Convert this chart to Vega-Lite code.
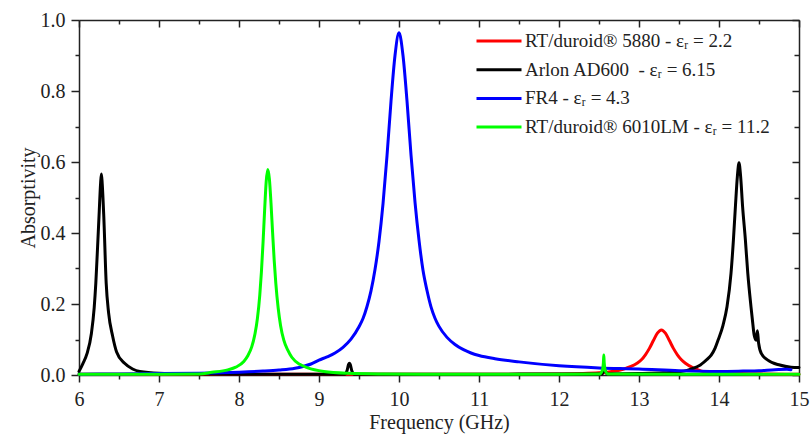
{
  "$schema": "https://vega.github.io/schema/vega-lite/v6.json",
  "width": 720,
  "height": 355,
  "autosize": {"type": "none"},
  "padding": {"left": 79, "top": 20, "right": 11, "bottom": 59},
  "background": "white",
  "config": {
    "view": {"stroke": null},
    "style": {"guide-label": {"font": "Liberation Serif", "fontSize": 20, "fill": "#222222"}, "guide-title": {"font": "Liberation Serif", "fontSize": 20, "fontWeight": "normal", "fill": "#222222"}},
    "axis": {
      "grid": false,
      "domainColor": "#222222",
      "domainWidth": 1.5,
      "tickColor": "#222222",
      "tickWidth": 1.5,
      "labelFont": "Liberation Serif",
      "labelFontSize": 20,
      "labelColor": "#222222",
      "titleFont": "Liberation Serif",
      "titleFontSize": 20,
      "titleFontWeight": "normal",
      "titleColor": "#222222",
      "labelFlush": false,
      "labelOverlap": false
    }
  },
  "datasets": {
    "curves": [
      {"s": "RT/duroid® 5880 - εᵣ = 2.2", "f": 6.0, "a": 0.002},
      {"s": "RT/duroid® 5880 - εᵣ = 2.2", "f": 8.0, "a": 0.002},
      {"s": "RT/duroid® 5880 - εᵣ = 2.2", "f": 10.0, "a": 0.002},
      {"s": "RT/duroid® 5880 - εᵣ = 2.2", "f": 11.0, "a": 0.002},
      {"s": "RT/duroid® 5880 - εᵣ = 2.2", "f": 12.0, "a": 0.003},
      {"s": "RT/duroid® 5880 - εᵣ = 2.2", "f": 12.3, "a": 0.004},
      {"s": "RT/duroid® 5880 - εᵣ = 2.2", "f": 12.5, "a": 0.006},
      {"s": "RT/duroid® 5880 - εᵣ = 2.2", "f": 12.6, "a": 0.008},
      {"s": "RT/duroid® 5880 - εᵣ = 2.2", "f": 12.7, "a": 0.011},
      {"s": "RT/duroid® 5880 - εᵣ = 2.2", "f": 12.8, "a": 0.016},
      {"s": "RT/duroid® 5880 - εᵣ = 2.2", "f": 12.9, "a": 0.024},
      {"s": "RT/duroid® 5880 - εᵣ = 2.2", "f": 12.98, "a": 0.034},
      {"s": "RT/duroid® 5880 - εᵣ = 2.2", "f": 13.03, "a": 0.043},
      {"s": "RT/duroid® 5880 - εᵣ = 2.2", "f": 13.08, "a": 0.057},
      {"s": "RT/duroid® 5880 - εᵣ = 2.2", "f": 13.13, "a": 0.075},
      {"s": "RT/duroid® 5880 - εᵣ = 2.2", "f": 13.18, "a": 0.097},
      {"s": "RT/duroid® 5880 - εᵣ = 2.2", "f": 13.23, "a": 0.118},
      {"s": "RT/duroid® 5880 - εᵣ = 2.2", "f": 13.28, "a": 0.127},
      {"s": "RT/duroid® 5880 - εᵣ = 2.2", "f": 13.33, "a": 0.118},
      {"s": "RT/duroid® 5880 - εᵣ = 2.2", "f": 13.38, "a": 0.097},
      {"s": "RT/duroid® 5880 - εᵣ = 2.2", "f": 13.43, "a": 0.075},
      {"s": "RT/duroid® 5880 - εᵣ = 2.2", "f": 13.48, "a": 0.057},
      {"s": "RT/duroid® 5880 - εᵣ = 2.2", "f": 13.53, "a": 0.043},
      {"s": "RT/duroid® 5880 - εᵣ = 2.2", "f": 13.58, "a": 0.033},
      {"s": "RT/duroid® 5880 - εᵣ = 2.2", "f": 13.68, "a": 0.02},
      {"s": "RT/duroid® 5880 - εᵣ = 2.2", "f": 13.78, "a": 0.011},
      {"s": "RT/duroid® 5880 - εᵣ = 2.2", "f": 13.9, "a": 0.007},
      {"s": "RT/duroid® 5880 - εᵣ = 2.2", "f": 14.28, "a": 0.004},
      {"s": "RT/duroid® 5880 - εᵣ = 2.2", "f": 14.6, "a": 0.003},
      {"s": "RT/duroid® 5880 - εᵣ = 2.2", "f": 15.0, "a": 0.002},

      {"s": "Arlon AD600  - εᵣ = 6.15", "f": 6.0, "a": 0.01},
      {"s": "Arlon AD600  - εᵣ = 6.15", "f": 6.05, "a": 0.033},
      {"s": "Arlon AD600  - εᵣ = 6.15", "f": 6.1, "a": 0.06},
      {"s": "Arlon AD600  - εᵣ = 6.15", "f": 6.155, "a": 0.117},
      {"s": "Arlon AD600  - εᵣ = 6.15", "f": 6.19, "a": 0.19},
      {"s": "Arlon AD600  - εᵣ = 6.15", "f": 6.21, "a": 0.258},
      {"s": "Arlon AD600  - εᵣ = 6.15", "f": 6.23, "a": 0.35},
      {"s": "Arlon AD600  - εᵣ = 6.15", "f": 6.25, "a": 0.446},
      {"s": "Arlon AD600  - εᵣ = 6.15", "f": 6.27, "a": 0.54},
      {"s": "Arlon AD600  - εᵣ = 6.15", "f": 6.28, "a": 0.566},
      {"s": "Arlon AD600  - εᵣ = 6.15", "f": 6.29, "a": 0.54},
      {"s": "Arlon AD600  - εᵣ = 6.15", "f": 6.31, "a": 0.446},
      {"s": "Arlon AD600  - εᵣ = 6.15", "f": 6.34, "a": 0.258},
      {"s": "Arlon AD600  - εᵣ = 6.15", "f": 6.37, "a": 0.175},
      {"s": "Arlon AD600  - εᵣ = 6.15", "f": 6.42, "a": 0.11},
      {"s": "Arlon AD600  - εᵣ = 6.15", "f": 6.47, "a": 0.065},
      {"s": "Arlon AD600  - εᵣ = 6.15", "f": 6.57, "a": 0.033},
      {"s": "Arlon AD600  - εᵣ = 6.15", "f": 6.67, "a": 0.017},
      {"s": "Arlon AD600  - εᵣ = 6.15", "f": 6.76, "a": 0.01},
      {"s": "Arlon AD600  - εᵣ = 6.15", "f": 7.0, "a": 0.005},
      {"s": "Arlon AD600  - εᵣ = 6.15", "f": 7.5, "a": 0.003},
      {"s": "Arlon AD600  - εᵣ = 6.15", "f": 8.0, "a": 0.002},
      {"s": "Arlon AD600  - εᵣ = 6.15", "f": 9.0, "a": 0.002},
      {"s": "Arlon AD600  - εᵣ = 6.15", "f": 9.32, "a": 0.002},
      {"s": "Arlon AD600  - εᵣ = 6.15", "f": 9.35, "a": 0.012},
      {"s": "Arlon AD600  - εᵣ = 6.15", "f": 9.37, "a": 0.03},
      {"s": "Arlon AD600  - εᵣ = 6.15", "f": 9.38, "a": 0.033},
      {"s": "Arlon AD600  - εᵣ = 6.15", "f": 9.39, "a": 0.03},
      {"s": "Arlon AD600  - εᵣ = 6.15", "f": 9.41, "a": 0.012},
      {"s": "Arlon AD600  - εᵣ = 6.15", "f": 9.44, "a": 0.002},
      {"s": "Arlon AD600  - εᵣ = 6.15", "f": 10.0, "a": 0.002},
      {"s": "Arlon AD600  - εᵣ = 6.15", "f": 11.0, "a": 0.002},
      {"s": "Arlon AD600  - εᵣ = 6.15", "f": 12.0, "a": 0.003},
      {"s": "Arlon AD600  - εᵣ = 6.15", "f": 12.54, "a": 0.003},
      {"s": "Arlon AD600  - εᵣ = 6.15", "f": 12.57, "a": 0.015},
      {"s": "Arlon AD600  - εᵣ = 6.15", "f": 12.6, "a": 0.003},
      {"s": "Arlon AD600  - εᵣ = 6.15", "f": 13.0, "a": 0.004},
      {"s": "Arlon AD600  - εᵣ = 6.15", "f": 13.3, "a": 0.006},
      {"s": "Arlon AD600  - εᵣ = 6.15", "f": 13.5, "a": 0.009},
      {"s": "Arlon AD600  - εᵣ = 6.15", "f": 13.6, "a": 0.013},
      {"s": "Arlon AD600  - εᵣ = 6.15", "f": 13.68, "a": 0.019},
      {"s": "Arlon AD600  - εᵣ = 6.15", "f": 13.75, "a": 0.026},
      {"s": "Arlon AD600  - εᵣ = 6.15", "f": 13.84, "a": 0.042},
      {"s": "Arlon AD600  - εᵣ = 6.15", "f": 13.9, "a": 0.055},
      {"s": "Arlon AD600  - εᵣ = 6.15", "f": 13.95, "a": 0.075},
      {"s": "Arlon AD600  - εᵣ = 6.15", "f": 13.99, "a": 0.099},
      {"s": "Arlon AD600  - εᵣ = 6.15", "f": 14.05, "a": 0.14},
      {"s": "Arlon AD600  - εᵣ = 6.15", "f": 14.1, "a": 0.192},
      {"s": "Arlon AD600  - εᵣ = 6.15", "f": 14.15, "a": 0.286},
      {"s": "Arlon AD600  - εᵣ = 6.15", "f": 14.18, "a": 0.38},
      {"s": "Arlon AD600  - εᵣ = 6.15", "f": 14.205, "a": 0.474},
      {"s": "Arlon AD600  - εᵣ = 6.15", "f": 14.23, "a": 0.56},
      {"s": "Arlon AD600  - εᵣ = 6.15", "f": 14.25, "a": 0.598},
      {"s": "Arlon AD600  - εᵣ = 6.15", "f": 14.27, "a": 0.56},
      {"s": "Arlon AD600  - εᵣ = 6.15", "f": 14.295, "a": 0.474},
      {"s": "Arlon AD600  - εᵣ = 6.15", "f": 14.33, "a": 0.38},
      {"s": "Arlon AD600  - εᵣ = 6.15", "f": 14.36, "a": 0.286},
      {"s": "Arlon AD600  - εᵣ = 6.15", "f": 14.4, "a": 0.192},
      {"s": "Arlon AD600  - εᵣ = 6.15", "f": 14.42, "a": 0.15},
      {"s": "Arlon AD600  - εᵣ = 6.15", "f": 14.44, "a": 0.112},
      {"s": "Arlon AD600  - εᵣ = 6.15", "f": 14.465, "a": 0.098},
      {"s": "Arlon AD600  - εᵣ = 6.15", "f": 14.48, "a": 0.125},
      {"s": "Arlon AD600  - εᵣ = 6.15", "f": 14.495, "a": 0.09},
      {"s": "Arlon AD600  - εᵣ = 6.15", "f": 14.53, "a": 0.06},
      {"s": "Arlon AD600  - εᵣ = 6.15", "f": 14.61, "a": 0.042},
      {"s": "Arlon AD600  - εᵣ = 6.15", "f": 14.76, "a": 0.028},
      {"s": "Arlon AD600  - εᵣ = 6.15", "f": 14.9, "a": 0.022},
      {"s": "Arlon AD600  - εᵣ = 6.15", "f": 15.0, "a": 0.021},

      {"s": "FR4 - εᵣ = 4.3", "f": 6.0, "a": 0.002},
      {"s": "FR4 - εᵣ = 4.3", "f": 6.5, "a": 0.003},
      {"s": "FR4 - εᵣ = 4.3", "f": 7.0, "a": 0.004},
      {"s": "FR4 - εᵣ = 4.3", "f": 7.5, "a": 0.005},
      {"s": "FR4 - εᵣ = 4.3", "f": 8.0, "a": 0.008},
      {"s": "FR4 - εᵣ = 4.3", "f": 8.3, "a": 0.011},
      {"s": "FR4 - εᵣ = 4.3", "f": 8.5, "a": 0.014},
      {"s": "FR4 - εᵣ = 4.3", "f": 8.7, "a": 0.019},
      {"s": "FR4 - εᵣ = 4.3", "f": 8.8, "a": 0.024},
      {"s": "FR4 - εᵣ = 4.3", "f": 8.9, "a": 0.031},
      {"s": "FR4 - εᵣ = 4.3", "f": 9.0, "a": 0.042},
      {"s": "FR4 - εᵣ = 4.3", "f": 9.1, "a": 0.051},
      {"s": "FR4 - εᵣ = 4.3", "f": 9.2, "a": 0.062},
      {"s": "FR4 - εᵣ = 4.3", "f": 9.3, "a": 0.078},
      {"s": "FR4 - εᵣ = 4.3", "f": 9.4, "a": 0.101},
      {"s": "FR4 - εᵣ = 4.3", "f": 9.5, "a": 0.136},
      {"s": "FR4 - εᵣ = 4.3", "f": 9.55, "a": 0.159},
      {"s": "FR4 - εᵣ = 4.3", "f": 9.6, "a": 0.193},
      {"s": "FR4 - εᵣ = 4.3", "f": 9.65, "a": 0.237},
      {"s": "FR4 - εᵣ = 4.3", "f": 9.7, "a": 0.297},
      {"s": "FR4 - εᵣ = 4.3", "f": 9.75, "a": 0.376},
      {"s": "FR4 - εᵣ = 4.3", "f": 9.8, "a": 0.482},
      {"s": "FR4 - εᵣ = 4.3", "f": 9.85, "a": 0.617},
      {"s": "FR4 - εᵣ = 4.3", "f": 9.9, "a": 0.771},
      {"s": "FR4 - εᵣ = 4.3", "f": 9.95, "a": 0.9},
      {"s": "FR4 - εᵣ = 4.3", "f": 10.0, "a": 0.964},
      {"s": "FR4 - εᵣ = 4.3", "f": 10.05, "a": 0.9},
      {"s": "FR4 - εᵣ = 4.3", "f": 10.1, "a": 0.772},
      {"s": "FR4 - εᵣ = 4.3", "f": 10.15, "a": 0.62},
      {"s": "FR4 - εᵣ = 4.3", "f": 10.2, "a": 0.487},
      {"s": "FR4 - εᵣ = 4.3", "f": 10.25, "a": 0.38},
      {"s": "FR4 - εᵣ = 4.3", "f": 10.3, "a": 0.295},
      {"s": "FR4 - εᵣ = 4.3", "f": 10.35, "a": 0.238},
      {"s": "FR4 - εᵣ = 4.3", "f": 10.4, "a": 0.192},
      {"s": "FR4 - εᵣ = 4.3", "f": 10.45, "a": 0.16},
      {"s": "FR4 - εᵣ = 4.3", "f": 10.5, "a": 0.137},
      {"s": "FR4 - εᵣ = 4.3", "f": 10.6, "a": 0.106},
      {"s": "FR4 - εᵣ = 4.3", "f": 10.7, "a": 0.086},
      {"s": "FR4 - εᵣ = 4.3", "f": 10.8, "a": 0.072},
      {"s": "FR4 - εᵣ = 4.3", "f": 10.9, "a": 0.062},
      {"s": "FR4 - εᵣ = 4.3", "f": 11.0, "a": 0.055},
      {"s": "FR4 - εᵣ = 4.3", "f": 11.2, "a": 0.046},
      {"s": "FR4 - εᵣ = 4.3", "f": 11.5, "a": 0.037},
      {"s": "FR4 - εᵣ = 4.3", "f": 12.0, "a": 0.026},
      {"s": "FR4 - εᵣ = 4.3", "f": 12.5, "a": 0.02},
      {"s": "FR4 - εᵣ = 4.3", "f": 13.0, "a": 0.017},
      {"s": "FR4 - εᵣ = 4.3", "f": 13.5, "a": 0.012},
      {"s": "FR4 - εᵣ = 4.3", "f": 14.0, "a": 0.01},
      {"s": "FR4 - εᵣ = 4.3", "f": 14.3, "a": 0.011},
      {"s": "FR4 - εᵣ = 4.3", "f": 14.5, "a": 0.012},
      {"s": "FR4 - εᵣ = 4.3", "f": 14.7, "a": 0.015},
      {"s": "FR4 - εᵣ = 4.3", "f": 14.85, "a": 0.016},
      {"s": "FR4 - εᵣ = 4.3", "f": 14.9, "a": 0.015},

      {"s": "RT/duroid® 6010LM - εᵣ = 11.2", "f": 6.0, "a": 0.002},
      {"s": "RT/duroid® 6010LM - εᵣ = 11.2", "f": 7.0, "a": 0.002},
      {"s": "RT/duroid® 6010LM - εᵣ = 11.2", "f": 7.5, "a": 0.003},
      {"s": "RT/duroid® 6010LM - εᵣ = 11.2", "f": 7.66, "a": 0.0075},
      {"s": "RT/duroid® 6010LM - εᵣ = 11.2", "f": 7.86, "a": 0.0145},
      {"s": "RT/duroid® 6010LM - εᵣ = 11.2", "f": 7.96, "a": 0.022},
      {"s": "RT/duroid® 6010LM - εᵣ = 11.2", "f": 8.06, "a": 0.038},
      {"s": "RT/duroid® 6010LM - εᵣ = 11.2", "f": 8.11, "a": 0.054},
      {"s": "RT/duroid® 6010LM - εᵣ = 11.2", "f": 8.16, "a": 0.08},
      {"s": "RT/duroid® 6010LM - εᵣ = 11.2", "f": 8.2, "a": 0.116},
      {"s": "RT/duroid® 6010LM - εᵣ = 11.2", "f": 8.23, "a": 0.159},
      {"s": "RT/duroid® 6010LM - εᵣ = 11.2", "f": 8.26, "a": 0.226},
      {"s": "RT/duroid® 6010LM - εᵣ = 11.2", "f": 8.28, "a": 0.29},
      {"s": "RT/duroid® 6010LM - εᵣ = 11.2", "f": 8.3, "a": 0.371},
      {"s": "RT/duroid® 6010LM - εᵣ = 11.2", "f": 8.32, "a": 0.463},
      {"s": "RT/duroid® 6010LM - εᵣ = 11.2", "f": 8.34, "a": 0.545},
      {"s": "RT/duroid® 6010LM - εᵣ = 11.2", "f": 8.36, "a": 0.579},
      {"s": "RT/duroid® 6010LM - εᵣ = 11.2", "f": 8.38, "a": 0.552},
      {"s": "RT/duroid® 6010LM - εᵣ = 11.2", "f": 8.4, "a": 0.484},
      {"s": "RT/duroid® 6010LM - εᵣ = 11.2", "f": 8.42, "a": 0.401},
      {"s": "RT/duroid® 6010LM - εᵣ = 11.2", "f": 8.44, "a": 0.323},
      {"s": "RT/duroid® 6010LM - εᵣ = 11.2", "f": 8.46, "a": 0.259},
      {"s": "RT/duroid® 6010LM - εᵣ = 11.2", "f": 8.49, "a": 0.188},
      {"s": "RT/duroid® 6010LM - εᵣ = 11.2", "f": 8.52, "a": 0.139},
      {"s": "RT/duroid® 6010LM - εᵣ = 11.2", "f": 8.56, "a": 0.098},
      {"s": "RT/duroid® 6010LM - εᵣ = 11.2", "f": 8.61, "a": 0.07},
      {"s": "RT/duroid® 6010LM - εᵣ = 11.2", "f": 8.66, "a": 0.05},
      {"s": "RT/duroid® 6010LM - εᵣ = 11.2", "f": 8.76, "a": 0.03},
      {"s": "RT/duroid® 6010LM - εᵣ = 11.2", "f": 8.86, "a": 0.02},
      {"s": "RT/duroid® 6010LM - εᵣ = 11.2", "f": 9.06, "a": 0.01},
      {"s": "RT/duroid® 6010LM - εᵣ = 11.2", "f": 9.36, "a": 0.005},
      {"s": "RT/duroid® 6010LM - εᵣ = 11.2", "f": 9.8, "a": 0.003},
      {"s": "RT/duroid® 6010LM - εᵣ = 11.2", "f": 10.5, "a": 0.002},
      {"s": "RT/duroid® 6010LM - εᵣ = 11.2", "f": 12.0, "a": 0.002},
      {"s": "RT/duroid® 6010LM - εᵣ = 11.2", "f": 12.51, "a": 0.003},
      {"s": "RT/duroid® 6010LM - εᵣ = 11.2", "f": 12.54, "a": 0.012},
      {"s": "RT/duroid® 6010LM - εᵣ = 11.2", "f": 12.555, "a": 0.035},
      {"s": "RT/duroid® 6010LM - εᵣ = 11.2", "f": 12.56, "a": 0.056},
      {"s": "RT/duroid® 6010LM - εᵣ = 11.2", "f": 12.565, "a": 0.035},
      {"s": "RT/duroid® 6010LM - εᵣ = 11.2", "f": 12.58, "a": 0.012},
      {"s": "RT/duroid® 6010LM - εᵣ = 11.2", "f": 12.61, "a": 0.003},
      {"s": "RT/duroid® 6010LM - εᵣ = 11.2", "f": 13.5, "a": 0.002},
      {"s": "RT/duroid® 6010LM - εᵣ = 11.2", "f": 15.0, "a": 0.002}
    ]
  },
  "data": {"name": "curves"},
  "resolve": {"axis": {"x": "independent", "y": "independent"}},
  "layer": [
    {
      "mark": {"type": "line", "strokeWidth": 3, "strokeJoin": "round", "strokeCap": "round", "interpolate": "monotone"},
      "encoding": {
        "x": {
          "field": "f", "type": "quantitative",
          "scale": {"domain": [6, 15], "nice": false, "zero": false},
          "axis": {"orient": "bottom", "values": [6, 7, 8, 9, 10, 11, 12, 13, 14, 15], "format": "d", "tickSize": 7, "labelPadding": 7, "labelFont": "Liberation Serif", "labelFontSize": 20, "title": "Frequency (GHz)", "titlePadding": 3}
        },
        "y": {
          "field": "a", "type": "quantitative",
          "scale": {"domain": [0, 1], "nice": false},
          "axis": {"orient": "left", "values": [0, 0.2, 0.4, 0.6, 0.8, 1.0], "format": ".1f", "tickSize": 8, "labelPadding": 6, "labelFont": "Liberation Serif", "labelFontSize": 20, "title": "Absorptivity", "titlePadding": 2}
        },
        "color": {
          "field": "s", "type": "nominal",
          "scale": {
            "domain": ["RT/duroid® 5880 - εᵣ = 2.2", "Arlon AD600  - εᵣ = 6.15", "FR4 - εᵣ = 4.3", "RT/duroid® 6010LM - εᵣ = 11.2"],
            "range": ["#ff0000", "#000000", "#0000ff", "#00ff00"]
          },
          "legend": {
            "title": null,
            "orient": "none",
            "legendX": 396,
            "legendY": 11,
            "padding": 0,
            "symbolType": "stroke",
            "symbolSize": 2025,
            "symbolStrokeWidth": 3,
            "clipHeight": 20,
            "rowPadding": 8.7,
            "labelFont": "Liberation Serif",
            "labelFontSize": 19,
            "labelColor": "#222222",
            "labelOffset": 2,
            "labelLimit": 400,
            "labelExpr": "replace(datum.label, 'AD600  -', 'AD600\u00a0 -')"
          }
        }
      }
    },
    {
      "mark": {"type": "line", "strokeOpacity": 0},
      "encoding": {
        "x": {"field": "f", "type": "quantitative", "axis": {"orient": "bottom", "values": [6.5, 7.5, 8.5, 9.5, 10.5, 11.5, 12.5, 13.5, 14.5], "tickSize": 4, "labels": false, "domain": false, "title": null}},
        "y": {"field": "a", "type": "quantitative", "axis": {"orient": "left", "values": [0.1, 0.3, 0.5, 0.7, 0.9], "tickSize": 4, "labels": false, "domain": false, "title": null}}
      }
    },
    {
      "mark": {"type": "line", "strokeOpacity": 0},
      "encoding": {
        "x": {"field": "f", "type": "quantitative", "axis": {"orient": "top", "values": [6, 7, 8, 9, 10, 11, 12, 13, 14, 15], "tickSize": -7, "labels": false, "title": null}},
        "y": {"field": "a", "type": "quantitative", "axis": {"orient": "right", "values": [0, 0.2, 0.4, 0.6, 0.8, 1.0], "tickSize": -7, "labels": false, "title": null}}
      }
    },
    {
      "mark": {"type": "line", "strokeOpacity": 0},
      "encoding": {
        "x": {"field": "f", "type": "quantitative", "axis": {"orient": "top", "values": [6.5, 7.5, 8.5, 9.5, 10.5, 11.5, 12.5, 13.5, 14.5], "tickSize": -4, "labels": false, "domain": false, "title": null}},
        "y": {"field": "a", "type": "quantitative", "axis": {"orient": "right", "values": [0.1, 0.3, 0.5, 0.7, 0.9], "tickSize": -5, "labels": false, "domain": false, "title": null}}
      }
    }
  ]
}
